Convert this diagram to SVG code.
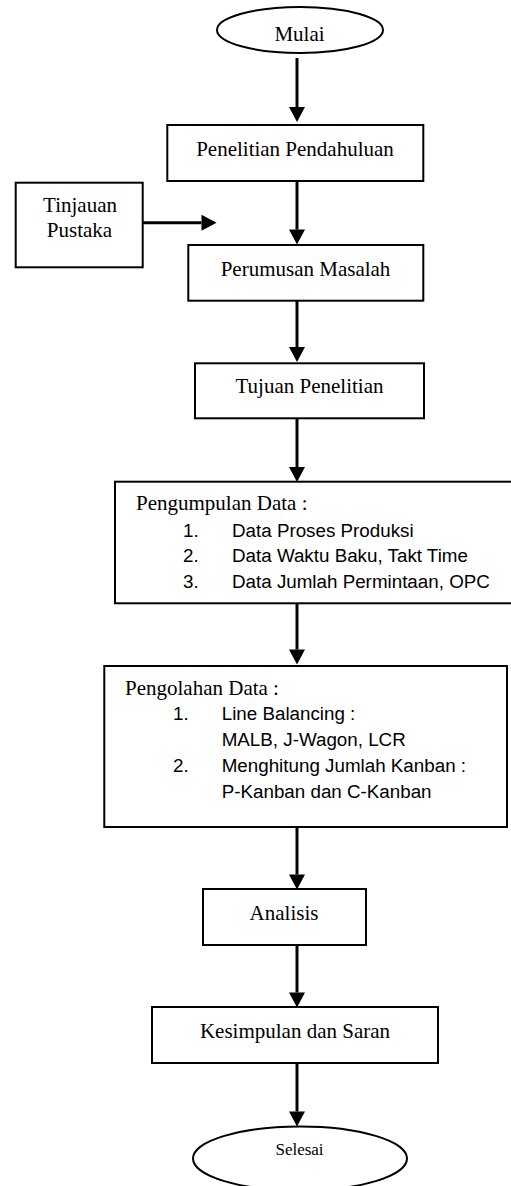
<svg xmlns="http://www.w3.org/2000/svg" width="511" height="1186" viewBox="0 0 511 1186">
  <style>
    .box { fill: #fff; stroke: #000; stroke-width: 2; }
    .conn { stroke: #000; stroke-width: 3; fill: none; }
    .serif { font-family: "Liberation Serif", "Times New Roman", serif; font-size: 21px; fill: #000; }
    .sans { font-family: "Liberation Sans", Arial, sans-serif; font-size: 18.8px; fill: #000; }
    .mid { text-anchor: middle; }
  </style>
  <defs>
    <marker id="arrow" markerUnits="userSpaceOnUse" markerWidth="16" markerHeight="16" refX="0" refY="8" orient="auto" overflow="visible">
      <path d="M0,0 L15,8 L0,16 Z" fill="#000"/>
    </marker>
  </defs>
  <rect width="511" height="1186" fill="#fff"/>

  <g id="connectors">
    <line class="conn" x1="297" y1="58" x2="297" y2="107" marker-end="url(#arrow)"/>
    <line class="conn" x1="297" y1="181" x2="297" y2="229.5" marker-end="url(#arrow)"/>
    <line class="conn" x1="142.7" y1="222.7" x2="201.5" y2="222.7" marker-end="url(#arrow)"/>
    <line class="conn" x1="297" y1="300.7" x2="297" y2="347" marker-end="url(#arrow)"/>
    <line class="conn" x1="297" y1="418.3" x2="297" y2="467" marker-end="url(#arrow)"/>
    <line class="conn" x1="297" y1="603.3" x2="297" y2="649.5" marker-end="url(#arrow)"/>
    <line class="conn" x1="297" y1="827" x2="297" y2="874.5" marker-end="url(#arrow)"/>
    <line class="conn" x1="297" y1="945" x2="297" y2="992.5" marker-end="url(#arrow)"/>
    <line class="conn" x1="297" y1="1063" x2="297" y2="1111.5" marker-end="url(#arrow)"/>
  </g>

  <g id="mulai">
    <ellipse class="box" cx="300" cy="30" rx="83" ry="23"/>
    <text class="serif mid" x="299.5" y="41">Mulai</text>
  </g>

  <g id="penelitian-pendahuluan">
    <rect class="box" x="167.3" y="125" width="256" height="56"/>
    <text class="serif mid" x="295" y="156">Penelitian Pendahuluan</text>
  </g>

  <g id="tinjauan-pustaka">
    <rect class="box" x="15.7" y="182.7" width="127" height="84.6"/>
    <text class="serif mid" x="80" y="211.7">Tinjauan</text>
    <text class="serif mid" x="79.5" y="237.3">Pustaka</text>
  </g>

  <g id="perumusan-masalah">
    <rect class="box" x="188.3" y="245" width="235" height="55.7"/>
    <text class="serif mid" x="305.5" y="276">Perumusan Masalah</text>
  </g>

  <g id="tujuan-penelitian">
    <rect class="box" x="195" y="363.3" width="229" height="55"/>
    <text class="serif mid" x="309.5" y="393.3">Tujuan Penelitian</text>
  </g>

  <g id="pengumpulan-data">
    <rect class="box" x="115" y="481.7" width="402" height="121.6"/>
    <text class="serif" x="136" y="510">Pengumpulan Data :</text>
    <text class="sans" x="183" y="536.5">1.</text>
    <text class="sans" x="232" y="536.5">Data Proses Produksi</text>
    <text class="sans" x="183" y="562">2.</text>
    <text class="sans" x="232" y="562">Data Waktu Baku, Takt Time</text>
    <text class="sans" x="183" y="588">3.</text>
    <text class="sans" x="232" y="588">Data Jumlah Permintaan, OPC</text>
  </g>

  <g id="pengolahan-data">
    <rect class="box" x="104.3" y="666" width="402.7" height="161"/>
    <text class="serif" x="125" y="695">Pengolahan Data :</text>
    <text class="sans" x="173" y="720">1.</text>
    <text class="sans" x="221.7" y="720">Line Balancing :</text>
    <text class="sans" x="221.7" y="746">MALB, J-Wagon, LCR</text>
    <text class="sans" x="173" y="772">2.</text>
    <text class="sans" x="221.7" y="772">Menghitung Jumlah Kanban :</text>
    <text class="sans" x="221.7" y="798">P-Kanban dan C-Kanban</text>
  </g>

  <g id="analisis">
    <rect class="box" x="203" y="889" width="163" height="56"/>
    <text class="serif mid" x="284" y="920">Analisis</text>
  </g>

  <g id="kesimpulan-dan-saran">
    <rect class="box" x="152" y="1007" width="286" height="56"/>
    <text class="serif mid" x="295" y="1038">Kesimpulan dan Saran</text>
  </g>

  <g id="selesai">
    <ellipse class="box" cx="300" cy="1158.5" rx="107" ry="32"/>
    <text class="serif mid" x="299.5" y="1155" style="font-size:17px">Selesai</text>
  </g>
</svg>
